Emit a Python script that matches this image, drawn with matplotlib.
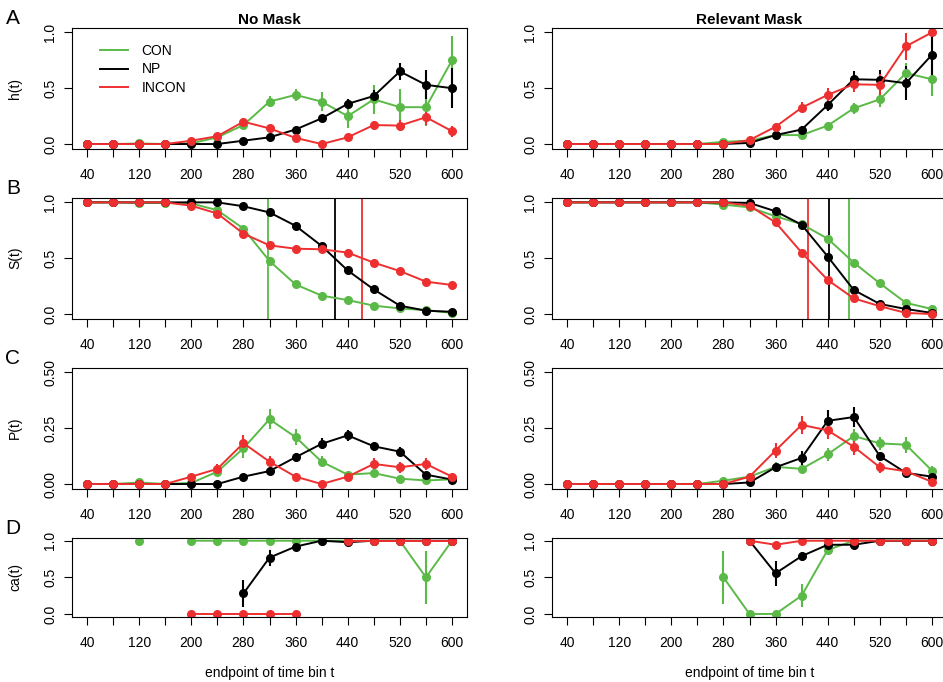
import numpy as np
import matplotlib
matplotlib.use('Agg')
import matplotlib.pyplot as plt
from matplotlib.lines import Line2D

plt.rcParams['font.family'] = ['Liberation Sans', 'DejaVu Sans']

nan = np.nan
t = [40, 80, 120, 160, 200, 240, 280, 320, 360, 400, 440, 480, 520, 560, 600]
xtick_labels = ['40', '', '120', '', '200', '', '280', '', '360', '', '440', '', '520', '', '600']

# A: hazard h(t)
h_nm_con = [0, 0, 0.005, 0, 0.006, 0.06, 0.17, 0.38, 0.44, 0.38, 0.25, 0.40, 0.33, 0.33, 0.75]
h_nm_con_err = [0, 0, 0.005, 0, 0.005, 0.02, 0.03, 0.05, 0.055, 0.085, 0.11, 0.13, 0.16, 0.17, 0.22]
h_nm_np = [0, 0, 0, 0, 0, 0, 0.03, 0.06, 0.13, 0.23, 0.36, 0.43, 0.65, 0.53, 0.50]
h_nm_np_err = [0, 0, 0, 0, 0, 0, 0.01, 0.015, 0.02, 0.025, 0.04, 0.05, 0.075, 0.13, 0.18]
h_nm_incon = [0, 0, 0, 0, 0.03, 0.07, 0.20, 0.14, 0.055, 0.0, 0.06, 0.17, 0.165, 0.24, 0.115]
h_nm_incon_err = [0, 0, 0, 0, 0.01, 0.015, 0.03, 0.03, 0.02, 0, 0.02, 0.04, 0.05, 0.07, 0.05]

h_rm_con = [0, 0, 0, 0, 0, 0, 0.02, 0.03, 0.08, 0.08, 0.165, 0.32, 0.40, 0.635, 0.58]
h_rm_con_err = [0, 0, 0, 0, 0, 0, 0.01, 0.01, 0.02, 0.02, 0.03, 0.05, 0.07, 0.09, 0.15]
h_rm_np = [0, 0, 0, 0, 0, 0, 0, 0.01, 0.08, 0.13, 0.35, 0.58, 0.575, 0.545, 0.80]
h_rm_np_err = [0, 0, 0, 0, 0, 0, 0, 0.005, 0.02, 0.03, 0.05, 0.07, 0.09, 0.15, 0.2]
h_rm_incon = [0, 0, 0, 0, 0, 0, 0, 0.035, 0.155, 0.325, 0.44, 0.535, 0.53, 0.875, 1.0]
h_rm_incon_err = [0, 0, 0, 0, 0, 0, 0, 0.01, 0.03, 0.05, 0.06, 0.07, 0.1, 0.12, 0]

# B: survivor S(t) and medians
s_nm_con = [1, 1, 0.995, 0.995, 0.99, 0.93, 0.765, 0.475, 0.265, 0.165, 0.125, 0.075, 0.05, 0.035, 0.01]
s_nm_con_err = [0, 0, 0.005, 0.005, 0.01, 0.015, 0.03, 0.04, 0.03, 0.02, 0.02, 0.015, 0.01, 0.01, 0.01]
s_nm_np = [1, 1, 1, 1, 1, 1, 0.965, 0.91, 0.79, 0.61, 0.39, 0.22, 0.075, 0.03, 0.02]
s_nm_np_err = [0, 0, 0, 0, 0, 0, 0.01, 0.015, 0.02, 0.02, 0.02, 0.02, 0.015, 0.01, 0.01]
s_nm_incon = [1, 1, 1, 1, 0.97, 0.90, 0.72, 0.615, 0.585, 0.58, 0.55, 0.46, 0.385, 0.29, 0.26]
s_nm_incon_err = [0, 0, 0, 0, 0.01, 0.02, 0.03, 0.03, 0.03, 0.03, 0.03, 0.03, 0.025, 0.02, 0.02]
med_nm = {'con': 317, 'np': 420, 'incon': 462}

s_rm_con = [1, 1, 1, 1, 1, 1, 0.98, 0.955, 0.875, 0.805, 0.675, 0.46, 0.275, 0.10, 0.045]
s_rm_con_err = [0, 0, 0, 0, 0, 0, 0.01, 0.01, 0.02, 0.02, 0.02, 0.03, 0.02, 0.015, 0.01]
s_rm_np = [1, 1, 1, 1, 1, 1, 1, 0.995, 0.92, 0.80, 0.515, 0.215, 0.09, 0.045, 0.01]
s_rm_np_err = [0, 0, 0, 0, 0, 0, 0, 0.005, 0.015, 0.02, 0.03, 0.025, 0.015, 0.01, 0.005]
s_rm_incon = [1, 1, 1, 1, 1, 1, 1, 0.97, 0.82, 0.55, 0.305, 0.14, 0.07, 0.01, 0.0]
s_rm_incon_err = [0, 0, 0, 0, 0, 0, 0, 0.01, 0.025, 0.03, 0.025, 0.02, 0.015, 0.005, 0]
med_rm = {'con': 472, 'np': 442, 'incon': 409}

# C: probability mass P(t)
p_nm_con = [0, 0, 0.007, 0, 0.005, 0.055, 0.16, 0.29, 0.21, 0.10, 0.042, 0.049, 0.024, 0.016, 0.021]
p_nm_con_err = [0, 0, 0.005, 0, 0.005, 0.015, 0.045, 0.045, 0.035, 0.025, 0.015, 0.015, 0.01, 0.008, 0.008]
p_nm_np = [0, 0, 0, 0, 0, 0, 0.033, 0.058, 0.12, 0.18, 0.218, 0.169, 0.145, 0.042, 0.02]
p_nm_np_err = [0, 0, 0, 0, 0, 0, 0.008, 0.01, 0.02, 0.025, 0.025, 0.02, 0.02, 0.012, 0.008]
p_nm_incon = [0, 0, 0, 0, 0.033, 0.068, 0.183, 0.10, 0.033, 0.0, 0.033, 0.09, 0.075, 0.09, 0.033]
p_nm_incon_err = [0, 0, 0, 0, 0.01, 0.02, 0.035, 0.025, 0.015, 0, 0.015, 0.025, 0.025, 0.025, 0.015]

p_rm_con = [0, 0, 0, 0, 0, 0, 0.015, 0.033, 0.077, 0.068, 0.133, 0.215, 0.182, 0.176, 0.06]
p_rm_con_err = [0, 0, 0, 0, 0, 0, 0.008, 0.01, 0.02, 0.02, 0.03, 0.03, 0.03, 0.035, 0.02]
p_rm_np = [0, 0, 0, 0, 0, 0, 0, 0.007, 0.075, 0.117, 0.283, 0.30, 0.125, 0.05, 0.033]
p_rm_np_err = [0, 0, 0, 0, 0, 0, 0, 0.005, 0.02, 0.03, 0.05, 0.045, 0.02, 0.015, 0.01]
p_rm_incon = [0, 0, 0, 0, 0, 0, 0, 0.033, 0.15, 0.265, 0.24, 0.167, 0.075, 0.057, 0.01]
p_rm_incon_err = [0, 0, 0, 0, 0, 0, 0, 0.01, 0.035, 0.04, 0.04, 0.035, 0.025, 0.02, 0.005]

# D: conditional accuracy ca(t)
ca_nm_con = [nan, nan, 1, nan, 1, 1, 1, 1, 1, 1, 1, 1, 1, 0.5, 1]
ca_nm_con_err = [0, 0, 0, 0, 0, 0, 0, 0, 0, 0, 0, 0, 0, 0.36, 0]
ca_nm_np = [nan, nan, nan, nan, nan, nan, 0.28, 0.77, 0.92, 1.0, 0.98, 1, 1, 1, 1]
ca_nm_np_err = [0, 0, 0, 0, 0, 0, 0.18, 0.11, 0.03, 0, 0.01, 0, 0, 0, 0]
ca_nm_incon = [nan, nan, nan, nan, 0, 0, 0, 0, 0, nan, 1, 1, 1, 1, 1]
ca_nm_incon_err = [0] * 15

ca_rm_con = [nan, nan, nan, nan, nan, nan, 0.5, 0, 0, 0.25, 0.875, 1, 1, 1, 1]
ca_rm_con_err = [0, 0, 0, 0, 0, 0, 0.36, 0, 0, 0.16, 0.05, 0, 0, 0, 0]
ca_rm_np = [nan, nan, nan, nan, nan, nan, nan, 1.0, 0.555, 0.79, 0.945, 0.945, 1, 1, 1]
ca_rm_np_err = [0, 0, 0, 0, 0, 0, 0, 0, 0.17, 0.06, 0.03, 0.02, 0, 0, 0]
ca_rm_incon = [nan, nan, nan, nan, nan, nan, nan, 1, 0.945, 1, 1, 1, 1, 1, 1]
ca_rm_incon_err = [0, 0, 0, 0, 0, 0, 0, 0, 0.03, 0, 0, 0, 0, 0, 0]

GREEN = '#5BBA47'
RED = '#EE2F2F'
BLACK = 'black'

W, H = 943, 682
fig = plt.figure(figsize=(W / 100, H / 100), dpi=100)


def add_ax(left, top, width, height):
    # pixel box -> figure fraction
    return fig.add_axes([left / W, 1 - (top + height) / H, width / W, height / H])


def panel(ax, series, ylim, yticks, yfmt):
    for y, e, c in series:
        ax.errorbar(t, y, yerr=e, color=c, lw=1.4, marker='o', ms=5.5,
                    elinewidth=1.5, capsize=0)
    ax.set_xlim(17.6, 622.4)
    ax.set_ylim(ylim)
    ax.set_xticks(t)
    ax.set_xticklabels(xtick_labels)
    ax.set_yticks(yticks)
    ax.set_yticklabels([yfmt % v for v in yticks], rotation=90, va='center')
    ax.tick_params(axis='both', length=6, width=0.8, labelsize=10, color='black')
    ax.tick_params(axis='x', pad=8)
    ax.tick_params(axis='y', pad=5)
    for s in ax.spines.values():
        s.set_linewidth(0.8)
        s.set_color('black')


col_left = [72.4, 552.4]
col_w = 394.2
rows = [(27.9, 120.6), (197.9, 120.6), (367.9, 120.6), (537.8, 79.1)]

# row A
ax = add_ax(col_left[0], rows[0][0], col_w, rows[0][1])
panel(ax, [(h_nm_con, h_nm_con_err, GREEN), (h_nm_np, h_nm_np_err, BLACK),
           (h_nm_incon, h_nm_incon_err, RED)], (-0.04, 1.04), [0, 0.5, 1.0], '%.1f')
handles = [Line2D([], [], color=GREEN, lw=1.4), Line2D([], [], color=BLACK, lw=1.4),
           Line2D([], [], color=RED, lw=1.4)]
ax.legend(handles, ['CON', 'NP', 'INCON'], loc='upper left', bbox_to_anchor=(0.07, 0.87),
          frameon=False, fontsize=10, handlelength=2.0, handletextpad=1.0,
          labelspacing=0.35, borderpad=0, borderaxespad=0)
ax = add_ax(col_left[1], rows[0][0], col_w, rows[0][1])
panel(ax, [(h_rm_con, h_rm_con_err, GREEN), (h_rm_np, h_rm_np_err, BLACK),
           (h_rm_incon, h_rm_incon_err, RED)], (-0.04, 1.04), [0, 0.5, 1.0], '%.1f')

# row B
ax = add_ax(col_left[0], rows[1][0], col_w, rows[1][1])
panel(ax, [(s_nm_con, s_nm_con_err, GREEN), (s_nm_np, s_nm_np_err, BLACK),
           (s_nm_incon, s_nm_incon_err, RED)], (-0.04, 1.04), [0, 0.5, 1.0], '%.1f')
ax.axvline(med_nm['con'], color=GREEN, lw=1.3)
ax.axvline(med_nm['np'], color=BLACK, lw=1.3)
ax.axvline(med_nm['incon'], color=RED, lw=1.3)
ax = add_ax(col_left[1], rows[1][0], col_w, rows[1][1])
panel(ax, [(s_rm_con, s_rm_con_err, GREEN), (s_rm_np, s_rm_np_err, BLACK),
           (s_rm_incon, s_rm_incon_err, RED)], (-0.04, 1.04), [0, 0.5, 1.0], '%.1f')
ax.axvline(med_rm['con'], color=GREEN, lw=1.3)
ax.axvline(med_rm['np'], color=BLACK, lw=1.3)
ax.axvline(med_rm['incon'], color=RED, lw=1.3)

# row C
ax = add_ax(col_left[0], rows[2][0], col_w, rows[2][1])
panel(ax, [(p_nm_con, p_nm_con_err, GREEN), (p_nm_np, p_nm_np_err, BLACK),
           (p_nm_incon, p_nm_incon_err, RED)], (-0.02, 0.52), [0, 0.25, 0.5], '%.2f')
ax = add_ax(col_left[1], rows[2][0], col_w, rows[2][1])
panel(ax, [(p_rm_con, p_rm_con_err, GREEN), (p_rm_np, p_rm_np_err, BLACK),
           (p_rm_incon, p_rm_incon_err, RED)], (-0.02, 0.52), [0, 0.25, 0.5], '%.2f')

# row D
ax = add_ax(col_left[0], rows[3][0], col_w, rows[3][1])
panel(ax, [(ca_nm_con, ca_nm_con_err, GREEN), (ca_nm_np, ca_nm_np_err, BLACK),
           (ca_nm_incon, ca_nm_incon_err, RED)], (-0.04, 1.04), [0, 0.5, 1.0], '%.1f')
ax = add_ax(col_left[1], rows[3][0], col_w, rows[3][1])
panel(ax, [(ca_rm_con, ca_rm_con_err, GREEN), (ca_rm_np, ca_rm_np_err, BLACK),
           (ca_rm_incon, ca_rm_incon_err, RED)], (-0.04, 1.04), [0, 0.5, 1.0], '%.1f')

# titles, letters, labels
fig.text(269.5 / W, 1 - 20 / H, 'No Mask', ha='center', va='center', fontsize=11, fontweight='bold')
fig.text(749.5 / W, 1 - 20 / H, 'Relevant Mask', ha='center', va='center', fontsize=11, fontweight='bold')
for letter, lab, (top, hgt) in zip('ABCD', ['h(t)', 'S(t)', 'P(t)', 'ca(t)'], rows):
    fig.text(13 / W, 1 - (top - 9) / H, letter, ha='center', va='center', fontsize=15)
    fig.text(15 / W, 1 - (top + hgt / 2) / H, lab, ha='center', va='center', fontsize=10, rotation=90)
for x0 in col_left:
    fig.text((x0 + col_w / 2) / W, 1 - 673 / H, 'endpoint of time bin t', ha='center', va='center', fontsize=10)

fig.savefig('out.png', dpi=100)
